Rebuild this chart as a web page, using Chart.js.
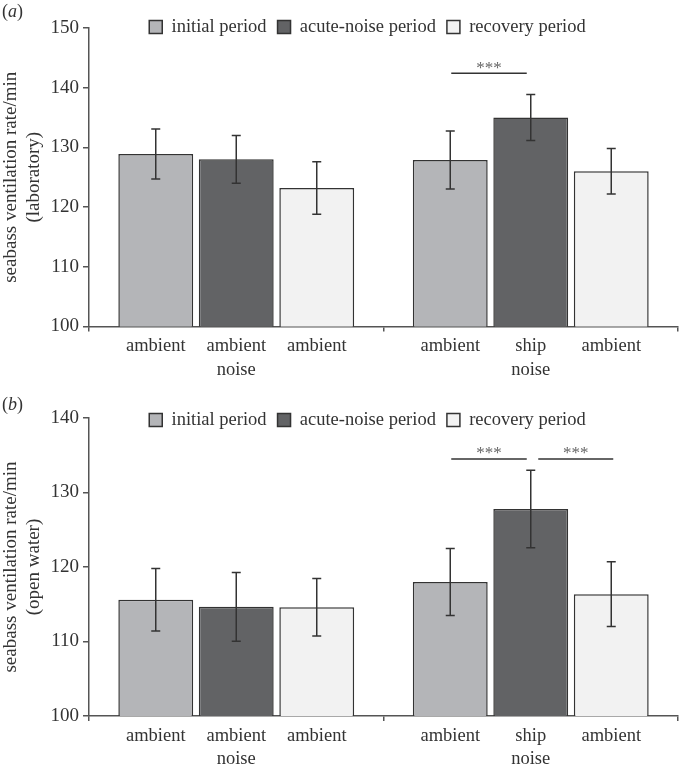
<!DOCTYPE html>
<html>
<head>
<meta charset="utf-8">
<script src="https://cdn.jsdelivr.net/npm/chart.js@4.4.1/dist/chart.umd.min.js"></script>
<style>
  body { margin: 0; background: #fff; }
  canvas { display: block; }
</style>
</head>
<body>
<canvas id="chartA" width="679" height="382"></canvas>
<canvas id="chartB" width="679" height="387"></canvas>
<script>
// groups on the x axis, one bar per period inside each group
const groups = ['ambient-noise exposure', 'ship-noise exposure'];
const periods = ['initial period', 'acute-noise period', 'recovery period'];
const barLabels = [
  ['ambient', ['ambient', 'noise'], 'ambient'],
  ['ambient', ['ship', 'noise'], 'ambient']
];
const labTicks = [100, 110, 120, 130, 140, 150];
const seaTicks = [100, 110, 120, 130, 140];

// (a) laboratory, mean and error per group
const labInitial = [128.9, 127.9];
const labAcute = [128.0, 135.0];
const labRecovery = [123.2, 126.0];
const labInitialErr = [4.2, 4.85];
const labAcuteErr = [4.0, 3.85];
const labRecoveryErr = [4.4, 3.8];
const labSig = [{ group: 1, from: 0, to: 1, level: 142.4, text: '***' }];

// (b) open water
const seaInitial = [115.6, 118.0];
const seaAcute = [114.65, 127.8];
const seaRecovery = [114.6, 116.35];
const seaInitialErr = [4.2, 4.5];
const seaAcuteErr = [4.6, 5.2];
const seaRecoveryErr = [3.85, 4.35];
const seaSig = [
  { group: 1, from: 0, to: 1, level: 134.5, text: '***' },
  { group: 1, from: 1, to: 2, level: 134.5, text: '***' }
];

const fills = ['#b4b5b8', '#626365', '#f2f2f2'];
const edge = '#333333';
const axisColor = '#555555';
const textColor = '#333333';
const serif = '"Liberation Serif", "Times New Roman", serif';

// draws error bars, per-bar x labels, significance lines, panel letter
function overlay(cfg) {
  return {
    id: 'overlay',
    afterLayout(chart) {
      // legend takes no room; move its row onto the top of the plot
      const lg = chart.legend;
      lg.top = cfg.legendY - (11 + 18.5 / 2);
      lg.bottom = lg.top + 45;
      lg.height = 45;
      lg.left += cfg.legendDx; lg.right += cfg.legendDx;
    },
    afterDatasetsDraw(chart) {
      const ctx = chart.ctx;
      const y = chart.scales.y;
      const area = chart.chartArea;
      ctx.save();
      // error bars
      ctx.strokeStyle = edge;
      ctx.lineWidth = 1.5;
      chart.data.datasets.forEach((ds, i) => {
        chart.getDatasetMeta(i).data.forEach((bar, j) => {
          const top = y.getPixelForValue(ds.data[j] + ds.errors[j]);
          const bot = y.getPixelForValue(ds.data[j] - ds.errors[j]);
          ctx.beginPath();
          ctx.moveTo(bar.x, top); ctx.lineTo(bar.x, bot);
          ctx.moveTo(bar.x - 4.5, top); ctx.lineTo(bar.x + 4.5, top);
          ctx.moveTo(bar.x - 4.5, bot); ctx.lineTo(bar.x + 4.5, bot);
          ctx.stroke();
        });
      });
      // labels under each bar
      ctx.fillStyle = textColor;
      ctx.font = '18.5px ' + serif;
      ctx.textAlign = 'center';
      ctx.textBaseline = 'middle';
      barLabels.forEach((row, g) => {
        row.forEach((lab, p) => {
          const bar = chart.getDatasetMeta(p).data[g];
          [].concat(lab).forEach((line, k) => {
            ctx.fillText(line, bar.x, area.bottom + 20 + k * 23.5);
          });
        });
      });
      // significance lines
      cfg.sig.forEach(s => {
        const a = chart.getDatasetMeta(s.from).data[s.group];
        const b = chart.getDatasetMeta(s.to).data[s.group];
        const x0 = a.x + (s.from === 1 ? 7.5 : 1);
        const x1 = b.x + (s.to === 1 ? -4 : 2);
        const ly = y.getPixelForValue(s.level);
        ctx.strokeStyle = edge;
        ctx.lineWidth = 1.5;
        ctx.beginPath();
        ctx.moveTo(x0, ly); ctx.lineTo(x1, ly);
        ctx.stroke();
        ctx.fillStyle = '#666666';
        ctx.font = '17px ' + serif;
        ctx.textBaseline = 'alphabetic';
        ctx.fillText(s.text, (x0 + x1) / 2, ly - 0.5);
      });
      // panel letter
      ctx.fillStyle = textColor;
      ctx.textAlign = 'left';
      ctx.textBaseline = 'middle';
      ctx.font = '18px ' + serif;
      let x = 2;
      ctx.fillText('(', x, cfg.letterY);
      x += ctx.measureText('(').width;
      ctx.font = 'italic 18px ' + serif;
      ctx.fillText(cfg.letter, x, cfg.letterY);
      x += ctx.measureText(cfg.letter).width;
      ctx.font = '18px ' + serif;
      ctx.fillText(')', x, cfg.letterY);
      ctx.restore();
    }
  };
}

function makeChart(id, series, errs, ticks, title, cfg) {
  return new Chart(document.getElementById(id), {
    type: 'bar',
    data: {
      labels: groups,
      datasets: periods.map((name, i) => ({
        label: name,
        data: series[i],
        errors: errs[i],
        backgroundColor: fills[i],
        borderColor: edge,
        borderWidth: 1.5,
        categoryPercentage: 0.82,
        barPercentage: 0.93
      }))
    },
    options: {
      responsive: false,
      animation: false,
      layout: { padding: { top: cfg.top - 1, right: 1, bottom: cfg.bottom, left: 0 } },
      plugins: {
        tooltip: { enabled: false },
        legend: {
          position: 'top',
          align: 'center',
          maxHeight: 1,
          labels: {
            boxWidth: 13,
            boxHeight: 13,
            padding: 11,
            color: textColor,
            font: { family: serif, size: 18.5 }
          }
        }
      },
      scales: {
        x: {
          grid: { drawOnChartArea: false, offset: true, tickLength: 5, color: axisColor, lineWidth: 1.5 },
          border: { color: axisColor, width: 1.5 },
          ticks: { display: false }
        },
        y: {
          min: ticks[0],
          max: ticks[ticks.length - 1],
          afterBuildTicks: s => { s.ticks = ticks.map(v => ({ value: v })); },
          afterFit: s => { s.width = 89; },
          grid: { drawOnChartArea: false, tickLength: 6, color: axisColor, lineWidth: 1.5 },
          border: { color: axisColor, width: 1.5 },
          ticks: { padding: 4, color: textColor, font: { family: serif, size: 19 } },
          title: {
            display: true,
            text: title,
            color: textColor,
            padding: { top: 0, bottom: 0 },
            font: { family: serif, size: 19, lineHeight: 1.2 }
          }
        }
      }
    },
    plugins: [overlay(cfg)]
  });
}

makeChart('chartA',
  [labInitial, labAcute, labRecovery],
  [labInitialErr, labAcuteErr, labRecoveryErr],
  labTicks,
  ['seabass ventilation rate/min', '(laboratory)'],
  { top: 28, bottom: 50.5, legendY: 27, legendDx: 28.5, letter: 'a', letterY: 12, sig: labSig });

makeChart('chartB',
  [seaInitial, seaAcute, seaRecovery],
  [seaInitialErr, seaAcuteErr, seaRecoveryErr],
  seaTicks,
  ['seabass ventilation rate/min', '(open water)'],
  { top: 36, bottom: 48, legendY: 38, legendDx: 28.5, letter: 'b', letterY: 23, sig: seaSig });
</script>
</body>
</html>
